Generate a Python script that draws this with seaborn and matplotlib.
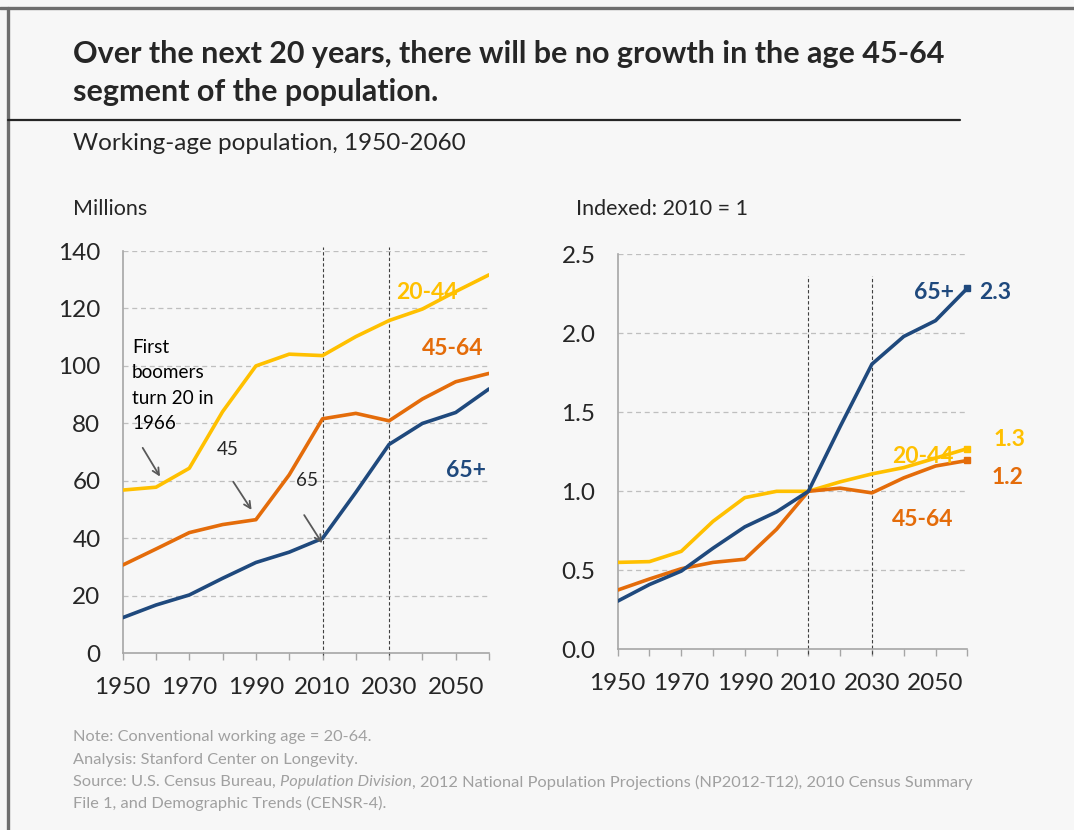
"""Working-age population 1950-2060: absolute (millions) and indexed to 2010."""

import matplotlib

matplotlib.use("Agg")

import matplotlib.pyplot as plt
import pandas as pd
import seaborn as sns
from matplotlib.lines import Line2D

# --- data ------------------------------------------------------------------
YEARS = [1950, 1960, 1970, 1980, 1990, 2000, 2010, 2020, 2030, 2040, 2050, 2060]

# millions
AGE_20_44 = [56.8, 57.8, 64.4, 84.1, 100.0, 104.1, 103.6, 110.2, 115.8, 119.8, 125.9, 131.7]
AGE_45_64 = [30.7, 36.3, 42.0, 44.8, 46.5, 62.1, 81.6, 83.5, 80.9, 88.5, 94.5, 97.4]
AGE_65_UP = [12.4, 16.8, 20.3, 26.1, 31.6, 35.2, 40.0, 56.0, 72.7, 80.0, 83.8, 92.0]

# indexed, 2010 = 1
IDX_20_44 = [0.55, 0.555, 0.62, 0.81, 0.96, 1.00, 1.00, 1.06, 1.11, 1.15, 1.21, 1.27]
IDX_45_64 = [0.375, 0.445, 0.51, 0.55, 0.57, 0.76, 1.00, 1.02, 0.99, 1.085, 1.16, 1.195]
IDX_65_UP = [0.305, 0.41, 0.495, 0.64, 0.775, 0.87, 1.00, 1.41, 1.805, 1.98, 2.08, 2.285]

END_LABELS = ["2.3", "1.3", "1.2"]
REF_YEARS = [2010, 2030]
LEFT_YTICKS = [0, 20, 40, 60, 80, 100, 120, 140]
RIGHT_YTICKS = [0.0, 0.5, 1.0, 1.5, 2.0, 2.5]
XTICKS = list(range(1950, 2061, 10))

YELLOW = "#FFC000"
ORANGE = "#E46C0A"
BLUE = "#1F497D"
BG = "#F7F7F7"
NOTE_GREY = "#A0A0A0"

sns.set_theme(style="white")
plt.rcParams["font.family"] = ["Lato", "DejaVu Sans"]

W, H = 1074, 830


def fx(px):
    return px / W


def fy(py):
    return 1 - py / H


def style_axes(ax, yticks, ylabels, ylim):
    ax.set_facecolor(BG)
    ax.set_xlim(1950, 2060)
    ax.set_ylim(*ylim)
    ax.set_yticks(yticks)
    ax.set_yticklabels(ylabels)
    ax.set_xticks(XTICKS)
    ax.set_xticklabels([str(y) if (y - 1950) % 20 == 0 else "" for y in XTICKS])
    ax.tick_params(axis="x", direction="out", length=5, width=1, color="#A6A6A6",
                   labelsize=17.5, pad=12, bottom=True)
    ax.tick_params(axis="y", length=0, labelsize=17.5, pad=16, left=False)
    for side in ["top", "right"]:
        ax.spines[side].set_visible(False)
    for side in ["left", "bottom"]:
        ax.spines[side].set_color("#A6A6A6")
        ax.spines[side].set_linewidth(1.2)
    for y in yticks[1:]:
        ax.axhline(y, color="#BFBFBF", lw=0.9, ls=(0, (4, 3)), zorder=0)
    ax.set_xlabel("")
    ax.set_ylabel("")


fig = plt.figure(figsize=(W / 100, H / 100), dpi=100)
fig.patch.set_facecolor(BG)

ax1 = fig.add_axes([fx(122.7), fy(653.3), fx(489) - fx(122.7), fy(251) - fy(653.3)])
ax2 = fig.add_axes([fx(617.7), fy(649.3), fx(967.3) - fx(617.7), fy(254.3) - fy(649.3)])

left = pd.DataFrame({"year": YEARS, "20-44": AGE_20_44, "45-64": AGE_45_64, "65+": AGE_65_UP})
right = pd.DataFrame({"year": YEARS, "20-44": IDX_20_44, "45-64": IDX_45_64, "65+": IDX_65_UP})
colors = {"20-44": YELLOW, "45-64": ORANGE, "65+": BLUE}

for ax, df in [(ax1, left), (ax2, right)]:
    for name, col in colors.items():
        sns.lineplot(data=df, x="year", y=name, color=col, lw=2.6, ax=ax, zorder=3)

style_axes(ax1, LEFT_YTICKS, [str(v) for v in LEFT_YTICKS], (0, 140))
style_axes(ax2, RIGHT_YTICKS, [f"{v:.1f}" for v in RIGHT_YTICKS], (0, 2.5))

for yr in REF_YEARS:
    ax1.vlines(yr, -0.5, 141.5, color="#404040", lw=0.8, ls=(0, (3, 2)), zorder=2, clip_on=False)
    ax2.vlines(yr, -0.03, 2.36, color="#404040", lw=0.8, ls=(0, (3, 2)), zorder=2, clip_on=False)

# end markers on indexed chart
for name, col in colors.items():
    ax2.plot(right["year"].iloc[-1], right[name].iloc[-1], marker="s", ms=5,
             color=col, zorder=4, clip_on=False)

# series labels, left
lab = dict(fontsize=16.5, fontweight="bold", ha="center", va="center")
ax1.text(2041.4, 125.4, "20-44", color=YELLOW, **lab)
ax1.text(2049, 106, "45-64", color=ORANGE, **lab)
ax1.text(2053, 63.5, "65+", color=BLUE, **lab)

# series labels, right
ax2.text(2049.5, 2.26, "65+", color=BLUE, **lab)
ax2.text(2046, 1.22, "20-44", color=YELLOW, **lab)
ax2.text(2046, 0.823, "45-64", color=ORANGE, **lab)
ax2.text(2068.7, 2.26, END_LABELS[0], color=BLUE, **lab)
ax2.text(2073.4, 1.325, END_LABELS[1], color=YELLOW, **lab)
ax2.text(2072.7, 1.089, END_LABELS[2], color=ORANGE, **lab)

# boomer annotations
ax1.text(1952.8, 109.4, "First\nboomers\nturn 20 in\n1966", fontsize=13.6, color="black",
         ha="left", va="top", linespacing=1.6)
ax1.text(1981.6, 70.8, "45", fontsize=13.6, ha="center", va="center")
ax1.text(2005.4, 60.1, "65", fontsize=13.6, ha="center", va="center")
arrow = dict(arrowstyle="->", color="#595959", lw=1.3, shrinkA=0, shrinkB=0)
ax1.annotate("", xy=(1961.2, 61.5), xytext=(1956, 71.5), arrowprops=arrow)
ax1.annotate("", xy=(1988.7, 49.9), xytext=(1983.2, 59.7), arrowprops=arrow)
ax1.annotate("", xy=(2009.9, 38.3), xytext=(2004.5, 48.1), arrowprops=arrow)

# titles and headers
fig.text(fx(73), fy(63), "Over the next 20 years, there will be no growth in the age 45-64",
         fontsize=22, fontweight="bold", ha="left", va="baseline")
fig.text(fx(73), fy(101), "segment of the population.",
         fontsize=22, fontweight="bold", ha="left", va="baseline")
fig.text(fx(73), fy(150), "Working-age population, 1950-2060", fontsize=17.5, ha="left", va="baseline")
fig.text(fx(73), fy(215), "Millions", fontsize=15.5, ha="left", va="baseline")
fig.text(fx(576), fy(215), "Indexed: 2010 = 1", fontsize=15.5, ha="left", va="baseline")

# frame lines
fig.add_artist(Line2D([0, 1], [fy(8.5), fy(8.5)], color="#6E6E6E", lw=2.4))
fig.add_artist(Line2D([fx(8), fx(8)], [0, fy(8.5)], color="#6E6E6E", lw=2.4))
fig.add_artist(Line2D([fx(8), fx(960)], [fy(119.5), fy(119.5)], color="#262626", lw=1.6))

# footnotes
note = dict(fontsize=11.8, color=NOTE_GREY, ha="left", va="center")
fig.text(fx(73), fy(737), "Note: Conventional working age = 20-64.", **note)
fig.text(fx(73), fy(760), "Analysis: Stanford Center on Longevity.", **note)
fig.text(fx(73), fy(803), "File 1, and Demographic Trends (CENSR-4).", **note)

renderer = fig.canvas.get_renderer()
x = fx(73)
for piece, style in [("Source: U.S. Census Bureau, ", "normal"),
                     ("Population Division", "italic"),
                     (", 2012 National Population Projections (NP2012-T12), 2010 Census Summary", "normal")]:
    t = fig.text(x, fy(782), piece, fontstyle=style, **note)
    bb = t.get_window_extent(renderer)
    x += bb.width / (W)

fig.savefig("out.png", dpi=100, facecolor=BG)
